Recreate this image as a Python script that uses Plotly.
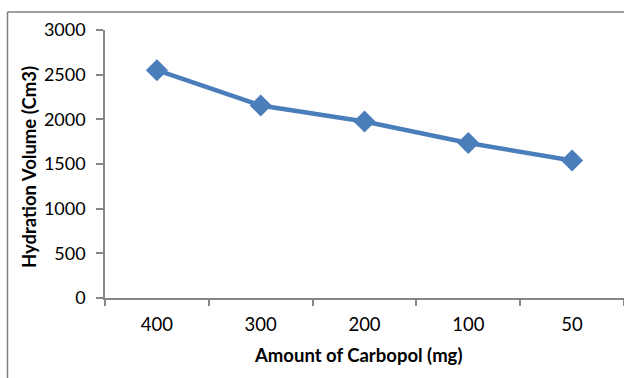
import plotly.graph_objects as go

categories = ["400", "300", "200", "100", "50"]
hydration_volume = [2550, 2155, 1975, 1735, 1540]
y_ticks = [0, 500, 1000, 1500, 2000, 2500, 3000]

W, H = 624, 378
ml, mr, mt, mb = 105, 0, 30, 80
pw, ph = W - ml - mr, H - mt - mb

def px_x(x):
    return (x - ml) / pw

def px_y(y):
    return (H - mb - y) / ph

axis_col = "#868686"
font_fam = "Lato, Carlito, Calibri, sans-serif"

fig = go.Figure()
fig.add_trace(go.Scatter(
    x=categories, y=hydration_volume, mode="lines+markers",
    line=dict(color="#4A7EBB", width=4.5),
    marker=dict(symbol="diamond", size=17, color="#4A7EBB"),
    showlegend=False, cliponaxis=False,
))

fig.update_layout(
    width=W, height=H,
    margin=dict(l=ml, r=mr, t=mt, b=mb, pad=0),
    paper_bgcolor="white", plot_bgcolor="white",
    font=dict(family=font_fam, size=18, color="#000000"),
    xaxis=dict(
        type="category", range=[-0.5, 4.5],
        showgrid=False, zeroline=False,
        showline=True, linecolor=axis_col, linewidth=1.5,
        ticks="outside", tickson="boundaries", ticklen=6, tickcolor=axis_col, tickwidth=1.5,
        ticklabelstandoff=9,
        tickfont=dict(family=font_fam, size=18.5),
    ),
    yaxis=dict(
        range=[0, 3000], tickvals=y_ticks,
        showgrid=False, zeroline=False,
        showline=True, linecolor=axis_col, linewidth=1.5,
        ticks="outside", ticklen=7, tickcolor=axis_col, tickwidth=1.5,
        ticklabelstandoff=7,
        tickfont=dict(family=font_fam, size=18),
    ),
    annotations=[
        dict(text="<b>Amount of Carbopol (mg)</b>", xref="paper", yref="paper",
             x=px_x(358), y=px_y(355), xanchor="center", yanchor="middle",
             showarrow=False, font=dict(family=font_fam, size=18.5)),
        dict(text="<b>Hydration Volume (Cm3)</b>", xref="paper", yref="paper",
             x=px_x(29), y=px_y(167), xanchor="center", yanchor="middle",
             textangle=-90, showarrow=False, font=dict(family=font_fam, size=18.5)),
    ],
    shapes=[
        dict(type="line", xref="paper", yref="paper",
             x0=px_x(7.5), x1=px_x(7.5), y0=px_y(12), y1=px_y(390),
             line=dict(color="#7f7f7f", width=1.5)),
        dict(type="line", xref="paper", yref="paper",
             x0=px_x(7.5), x1=px_x(640), y0=px_y(12), y1=px_y(12),
             line=dict(color="#7f7f7f", width=1.5)),
    ],
)

fig.write_html("out.html")
